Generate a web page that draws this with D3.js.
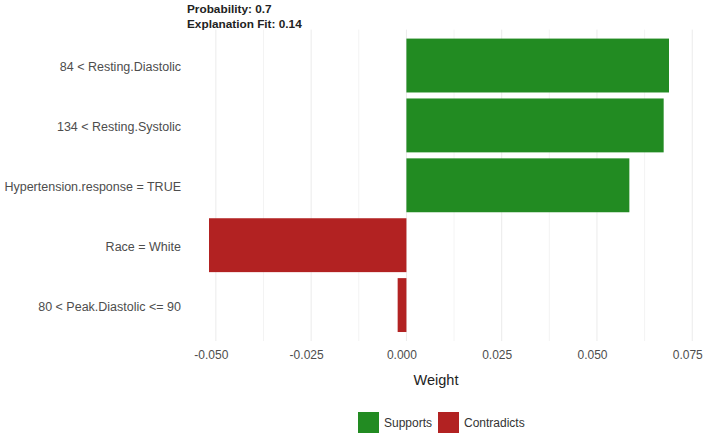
<!DOCTYPE html>
<html>
<head>
	<meta charset="utf-8">
	<title>Feature Weights</title>
	<script type="text/javascript" src="https://cdn.jsdelivr.net/npm/d3@7"></script>
	<style type="text/css">
		body {
			margin: 0;
			background: #fff;
			font-family: "Liberation Sans", Arial, sans-serif;
		}
		.grid line {
			stroke: #ebebeb;
			stroke-width: 1;
		}
		.grid .minor {
			stroke-width: 0.6;
		}
	</style>
</head>
<body>
	<div id="chart"></div>
	<script type="text/javascript">
		const features = [
			"84 < Resting.Diastolic",
			"134 < Resting.Systolic",
			"Hypertension.response = TRUE",
			"Race = White",
			"80 < Peak.Diastolic <= 90"
		];
		const weights = [0.0689, 0.0675, 0.0585, -0.0518, -0.0023];
		const xTicks = [-0.050, -0.025, 0.000, 0.025, 0.050, 0.075];
		const legendLabels = ["Supports", "Contradicts"];
		const titleLines = ["Probability: 0.7", "Explanation Fit: 0.14"];

		const width = 709;
		const height = 434;
		const panel = {left: 186, right: 692, top: 29.6, bottom: 341};
		const colors = {Supports: "#228b22", Contradicts: "#b22222"};

		const rows = features.map((f, i) => ({
			feature: f,
			weight: weights[i],
			kind: weights[i] >= 0 ? "Supports" : "Contradicts"
		}));

		// ggplot style 5% expansion
		const ext = d3.extent(weights.concat([0]));
		const pad = (ext[1] - ext[0]) * 0.05;
		const x = d3.scaleLinear()
			.domain([ext[0] - pad, ext[1] + pad])
			.range([panel.left, panel.right]);

		// discrete axis: 0.6 units of padding each side, bars 0.9 wide
		const y = d3.scaleBand()
			.domain(features)
			.range([panel.top, panel.bottom])
			.paddingInner(0.1)
			.paddingOuter(0.15);

		const svg = d3.select("#chart").append("svg")
			.attr("width", width)
			.attr("height", height);

		// grid lines (major + minor)
		const minor = xTicks.slice(0, -1).map((t, i) => (t + xTicks[i + 1]) / 2);
		const grid = svg.append("g").attr("class", "grid");
		grid.selectAll("line.minor").data(minor).join("line")
			.attr("class", "minor")
			.attr("x1", d => x(d)).attr("x2", d => x(d))
			.attr("y1", panel.top).attr("y2", panel.bottom);
		grid.selectAll("line.major").data(xTicks).join("line")
			.attr("class", "major")
			.attr("x1", d => x(d)).attr("x2", d => x(d))
			.attr("y1", panel.top).attr("y2", panel.bottom);

		// bars
		svg.append("g").selectAll("rect").data(rows).join("rect")
			.attr("x", d => x(Math.min(0, d.weight)))
			.attr("width", d => Math.abs(x(d.weight) - x(0)))
			.attr("y", d => y(d.feature))
			.attr("height", y.bandwidth())
			.attr("fill", d => colors[d.kind]);

		// y axis labels
		const yAxis = svg.append("g")
			.attr("transform", `translate(${panel.left},0)`)
			.call(d3.axisLeft(y).tickSize(0).tickPadding(5));
		yAxis.select(".domain").remove();
		yAxis.selectAll("text")
			.attr("font-family", "Liberation Sans, Arial, sans-serif")
			.attr("font-size", "12.5px")
			.attr("dy", "0.45em")
			.attr("fill", "#4d4d4d");

		// x axis labels
		const fmt = d3.format(".3f");
		const xAxis = svg.append("g")
			.attr("transform", `translate(0,${panel.bottom})`)
			.call(d3.axisBottom(x).tickValues(xTicks)
				.tickFormat(d => fmt(d).replace("\u2212", "-"))
				.tickSize(0).tickPadding(9));
		xAxis.select(".domain").remove();
		xAxis.selectAll("text")
			.attr("font-family", "Liberation Sans, Arial, sans-serif")
			.attr("font-size", "12px")
			.attr("dx", "-5")
			.attr("fill", "#4d4d4d");

		svg.append("text")
			.attr("x", 436)
			.attr("y", 385)
			.attr("text-anchor", "middle")
			.attr("font-size", "14.5px")
			.attr("fill", "#222")
			.text("Weight");

		// title
		svg.append("g").selectAll("text").data(titleLines).join("text")
			.attr("x", panel.left + 1)
			.attr("y", (d, i) => 12.5 + i * 15.5)
			.attr("font-size", "11.8px")
			.attr("font-weight", "bold")
			.attr("fill", "#222")
			.text(d => d);

		// legend
		const legendX = [358, 438];
		const legend = svg.append("g").selectAll("g").data(legendLabels).join("g")
			.attr("transform", (d, i) => `translate(${legendX[i]},412)`);
		legend.append("rect")
			.attr("width", 21)
			.attr("height", 21)
			.attr("fill", d => colors[d]);
		legend.append("text")
			.attr("x", 26)
			.attr("y", 11)
			.attr("dy", "0.35em")
			.attr("font-size", "12px")
			.attr("fill", "#333")
			.text(d => d);
	</script>
</body>
</html>
